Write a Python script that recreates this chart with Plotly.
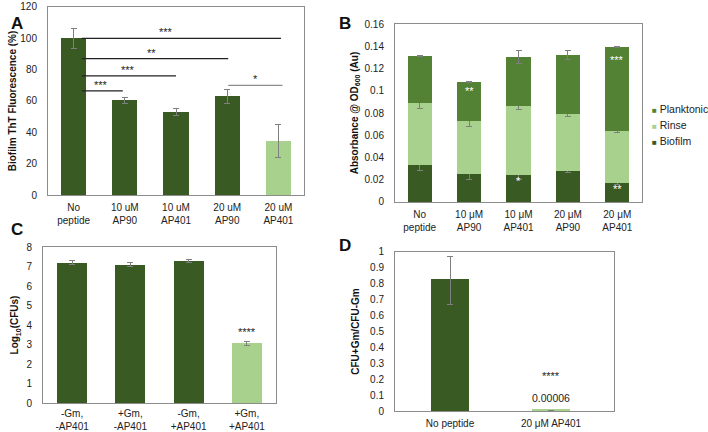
import plotly.graph_objects as go

# ---------- data ----------
a_cats = ["No<br>peptide", "10 uM<br>AP90", "10 uM<br>AP401", "20 uM<br>AP90", "20 uM<br>AP401"]
a_vals = [100, 60.5, 53, 63, 34.5]
a_err = [6.5, 2, 2.5, 4.5, 10.5]

b_cats = ["No<br>peptide", "10 μM<br>AP90", "10 μM<br>AP401", "20 μM<br>AP90", "20 μM<br>AP401"]
b_biofilm = [0.033, 0.0255, 0.0245, 0.028, 0.0175]
b_biofilm_err = [0.005, 0.005, 0.004, 0.0018, 0.0015]
b_rinse = [0.056, 0.0475, 0.0615, 0.051, 0.046]
b_rinse_err = [0.005, 0.005, 0.003, 0.002, 0.001]
b_plank = [0.0425, 0.0345, 0.0445, 0.0535, 0.0755]
b_plank_err = [0.0003, 0.0005, 0.006, 0.004, 0.0005]
b_series = ["Planktonic", "Rinse", "Biofilm"]

c_cats = ["-Gm,<br>-AP401", "+Gm,<br>-AP401", "-Gm,<br>+AP401", "+Gm,<br>+AP401"]
c_vals = [7.2, 7.1, 7.28, 3.06]
c_err = [0.12, 0.1, 0.09, 0.12]

d_cats = ["No peptide", "20 μM AP401"]
d_vals = [0.82, 0.00006]
d_err = [0.15, 0.0]

# significance brackets (panel A)
sig_x0 = [0.16, 0.16, 0.16, 0.16, 3.02]
sig_x1 = [4.05, 3.02, 2.0, 0.96, 4.08]
sig_y = [100, 87, 76, 66.5, 70]
sig_star_x = [1.8, 1.52, 1.06, 0.54, 3.56]
sig_txt = ["***", "**", "***", "***", "*"]

DARK = "#3a5a23"
MID = "#548235"
LIGHT = "#a9d18e"
ERR = "#7f7f7f"
FONT = "Liberation Sans, Arial, sans-serif"

fig = go.Figure()

def eb(arr):
    return dict(type="data", array=arr, visible=True, color=ERR, thickness=1, width=3)

# Panel A
fig.add_trace(go.Bar(x=a_cats, y=a_vals, error_y=eb(a_err), width=0.49,
                     marker=dict(color=[DARK, DARK, DARK, DARK, LIGHT], line=dict(width=0)),
                     xaxis="x", yaxis="y", showlegend=False))
# Panel B
fig.add_trace(go.Bar(x=b_cats, y=b_biofilm, name="Biofilm", error_y=eb(b_biofilm_err), width=0.49,
                     marker=dict(color=DARK, line=dict(width=0)), xaxis="x2", yaxis="y2", showlegend=False))
fig.add_trace(go.Bar(x=b_cats, y=b_rinse, name="Rinse", error_y=eb(b_rinse_err), width=0.49,
                     marker=dict(color=LIGHT, line=dict(width=0)), xaxis="x2", yaxis="y2", showlegend=False))
fig.add_trace(go.Bar(x=b_cats, y=b_plank, name="Planktonic", error_y=eb(b_plank_err), width=0.49,
                     marker=dict(color=MID, line=dict(width=0)), xaxis="x2", yaxis="y2", showlegend=False))
# Panel C
fig.add_trace(go.Bar(x=c_cats, y=c_vals, error_y=eb(c_err), width=0.515,
                     marker=dict(color=[DARK, DARK, DARK, LIGHT], line=dict(width=0)),
                     xaxis="x3", yaxis="y3", showlegend=False))
# Panel D
fig.add_trace(go.Bar(x=d_cats, y=d_vals, error_y=eb(d_err), width=0.34,
                     marker=dict(color=[DARK, LIGHT], line=dict(color=[DARK, LIGHT], width=3)),
                     xaxis="x4", yaxis="y4", showlegend=False))

fig.update_layout(barmode="stack")

axbase = dict(showline=True, linecolor="#8c8c8c", linewidth=1, mirror=True,
              showgrid=False, zeroline=False, ticks="", automargin=False,
              tickfont=dict(family=FONT, size=10, color="#222"))
xax = dict(ticklabelstandoff=3, **axbase)
yax = dict(ticklabelstandoff=8, **axbase)
tfont = dict(family=FONT, size=10, color="#111")

fig.update_layout(
    width=708, height=432, margin=dict(l=0, r=0, t=0, b=0),
    paper_bgcolor="white", plot_bgcolor="white",
    font=dict(family=FONT, size=10, color="#222"),
    showlegend=False,
    xaxis=dict(domain=[0.0678, 0.4294], anchor="y", **xax),
    yaxis=dict(domain=[0.5486, 0.9838], anchor="x", range=[0, 120], dtick=20,
               title=dict(text="<b>Biofilm ThT Fluorescence (%)</b>", font=tfont, standoff=1),
               **yax),
    xaxis2=dict(domain=[0.5579, 0.9068], anchor="y2", **xax),
    yaxis2=dict(domain=[0.5324, 0.9444], anchor="x2", range=[0, 0.16], dtick=0.02,
                tickformat="~g",
                title=dict(text="<b>Absorbance @ OD<sub>600</sub> (Au)</b>", font=tfont, standoff=4),
                **yax),
    xaxis3=dict(domain=[0.0607, 0.3898], anchor="y3",
                **{**xax, "ticklabelstandoff": 1}),
    yaxis3=dict(domain=[0.0671, 0.4282], anchor="x3", range=[0, 8], dtick=1,
                title=dict(text="<b>Log<sub>10</sub>(CFUs)</b>", font=tfont, standoff=5),
                **yax),
    xaxis4=dict(domain=[0.5579, 0.8672], anchor="y4", range=[-0.545, 1.623], **xax),
    yaxis4=dict(domain=[0.0486, 0.4167], anchor="x4", range=[0, 1], dtick=0.1,
                tickformat="~g",
                title=dict(text="<b>CFU+Gm/CFU-Gm</b>", font=tfont, standoff=8),
                **yax),
)

# manual legend for panel B (Planktonic, Rinse, Biofilm)
leg_cols = [MID, LIGHT, DARK]
for i, (nm, col) in enumerate(zip(b_series, leg_cols)):
    fig.add_annotation(xref="paper", yref="paper", x=650 / 708, y=1 - (109 + i * 16) / 432,
                       xanchor="left", yanchor="middle", showarrow=False,
                       text="<span style='color:%s;font-size:8px'>■</span> %s" % (col, nm),
                       font=dict(size=10.5, color="#222"))

for x0, x1, yv, sx, t, k in zip(sig_x0, sig_x1, sig_y, sig_star_x, sig_txt, range(5)):
    col = "#8c8c8c" if k == 4 else "#222"
    fig.add_shape(type="line", xref="x", yref="y", x0=x0, x1=x1, y0=yv, y1=yv,
                  line=dict(color=col, width=1.2))
    fig.add_annotation(xref="x", yref="y", x=sx, y=yv, text=t, showarrow=False,
                       yanchor="bottom", yshift=-2, font=dict(size=11, color="#222"))

# white stars in panel B
b_star_x = [1, 2, 4, 4]
b_star_y = [0.1, 0.019, 0.128, 0.012]
b_star_t = ["**", "*", "***", "**"]
for xi, yv, t in zip(b_star_x, b_star_y, b_star_t):
    fig.add_annotation(xref="x2", yref="y2", x=b_cats[xi], y=yv, text=t, showarrow=False,
                       font=dict(size=11, color="white"))

fig.add_annotation(xref="x3", yref="y3", x=c_cats[3], y=3.62, text="****", showarrow=False,
                   font=dict(size=11, color="#222"))
fig.add_annotation(xref="x4", yref="y4", x=d_cats[1], y=0.22, text="****", showarrow=False,
                   font=dict(size=11, color="#222"))
fig.add_annotation(xref="x4", yref="y4", x=d_cats[1], y=0.08, text="0.00006", showarrow=False,
                   font=dict(size=10.5, color="#222"))

# panel labels
for lbl, px, py in [("A", 9, 12), ("B", 345, 12), ("C", 9, 229), ("D", 345, 245)]:
    fig.add_annotation(xref="paper", yref="paper", x=px / 708, y=1 - py / 432, text="<b>%s</b>" % lbl,
                       showarrow=False, font=dict(size=17, color="#111"))

fig.write_html("out.html", config={"displayModeBar": False},
               post_script="document.body.style.margin='0';document.body.style.overflow='hidden';")
